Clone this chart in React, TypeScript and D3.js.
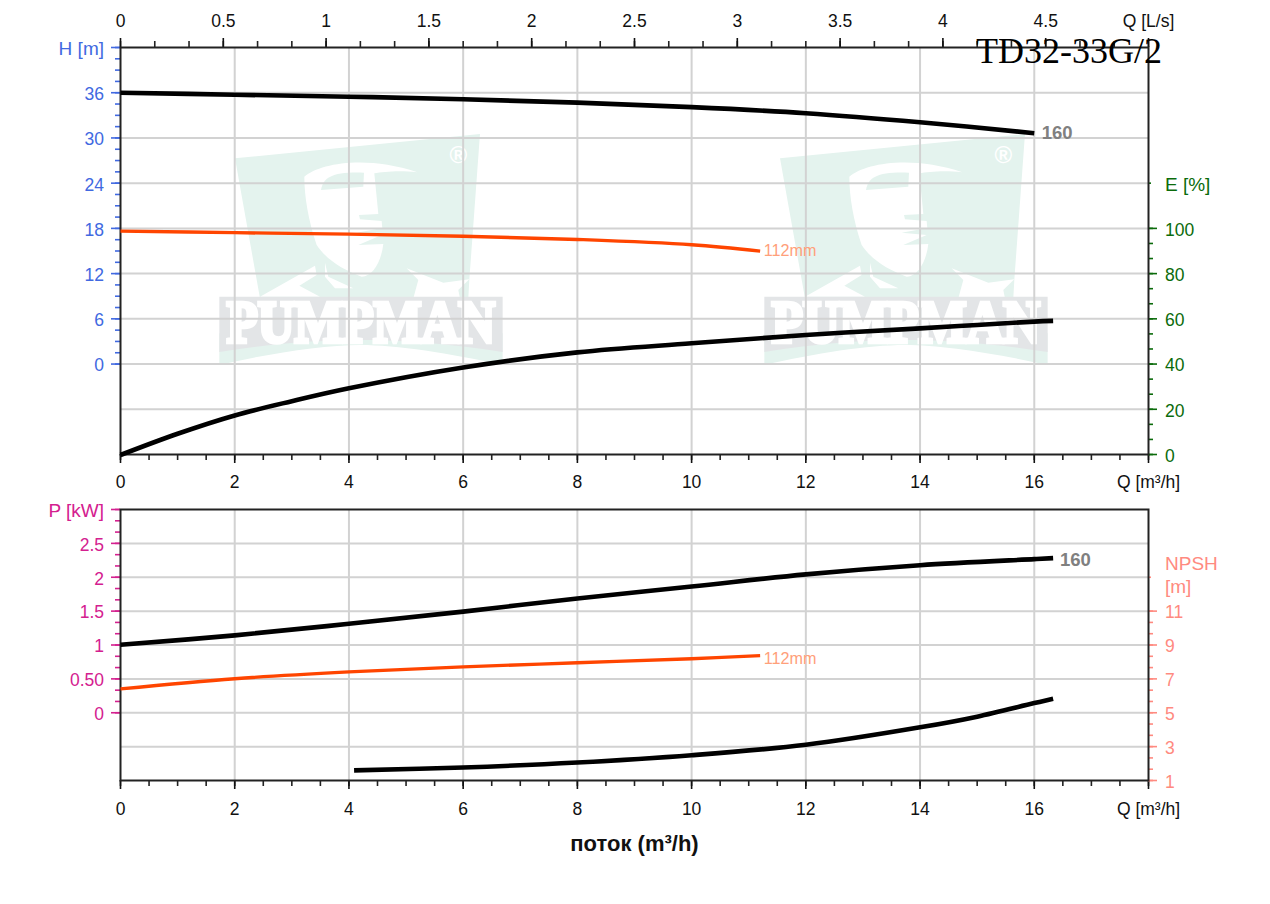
import React, { useEffect, useRef } from 'react';
import * as d3 from 'd3';

type Pt = [number, number];

// Flow values at which the curves were read (m3/h)
const headQ = [0, 2, 4, 6, 8, 10, 12, 14, 16];
const head160 = [36.07, 35.8, 35.54, 35.2, 34.75, 34.15, 33.35, 32.15, 30.7];
const headSmallQ = [0, 2, 4, 6, 8, 10, 11.2];
const head112 = [17.7, 17.5, 17.3, 17.03, 16.6, 15.9, 15.05];
const effQ = [0, 1, 2, 3, 4, 6, 8, 10, 12, 14, 15, 16, 16.33];
const eff160 = [0, 9.4, 17.5, 23.8, 29.5, 38.7, 45.4, 49.4, 53.1, 56, 57.5, 59, 59.3];
const powerQ = [0, 2, 4, 6, 8, 10, 12, 14, 16, 16.33];
const power160 = [1.01, 1.15, 1.32, 1.5, 1.695, 1.87, 2.05, 2.185, 2.275, 2.29];
const powerSmallQ = [0, 2, 4, 6, 8, 10, 11.2];
const power112 = [0.36, 0.51, 0.61, 0.685, 0.745, 0.805, 0.85];
const npshQ = [4.09, 6, 8, 10, 12, 14, 15, 16, 16.33];
const npsh160 = [1.63, 1.8, 2.09, 2.52, 3.14, 4.17, 4.8, 5.6, 5.85];

// Tick values
const qTicks = [0, 2, 4, 6, 8, 10, 12, 14, 16, 18];
const qMinor = d3.range(0, 18.01, 0.5);
const lsTicks = [0, 0.5, 1, 1.5, 2, 2.5, 3, 3.5, 4, 4.5, 5];
const lsMinor = d3.range(0, 5.01, 0.5 / 3);
const hTicks = [0, 6, 12, 18, 24, 30, 36];
const hMinor = d3.range(0, 42.01, 1.5);
const hGrid = [-6, 0, 6, 12, 18, 24, 30, 36];
const eTicks = [0, 20, 40, 60, 80, 100];
const eMinor = d3.range(0, 100.01, 20 / 3);
const pTicks = [0, 0.5, 1, 1.5, 2, 2.5];
const pMinor = d3.range(0, 3.01, 0.5 / 3);
const pGrid = [-0.5, 0, 0.5, 1, 1.5, 2, 2.5];
const npshTicks = [1, 3, 5, 7, 9, 11];
const npshMinor = d3.range(1, 11.01, 2 / 3);

const BLUE = '#4169e1';
const GREEN = '#0b6b0b';
const PINK = '#d4208f';
const SALMON = '#ff8a80';
const DARK = '#222';
const FONT = '"Liberation Sans", Arial, sans-serif';

const Watermark = ({ dx }: { dx: number }) => (
  <g transform={`translate(${210 + dx},120) scale(0.3333)`}>
    <polygon points="75,115 810,42 778,480 775,535 150,535" fill="#e4f3ee" />
    <path
      d="M283,170 C330,130 470,105 622,157 C570,150 520,155 493,160 L505,282 L447,285 L450,298 L515,303 L517,324 L440,338 L515,345 L445,375 L520,372 C515,420 490,470 455,470 C400,450 350,420 320,375 C295,300 283,230 283,170 Z"
      fill="#fff"
    />
    <path d="M333,210 C340,170 370,155 462,158 L460,200 Z" fill="#e4f3ee" />
    <polygon points="150,530 315,437 320,465 268,497 330,530" fill="#fff" />
    <polygon points="345,428 355,470 430,505 375,505 345,470" fill="#fff" />
    <polygon points="590,445 700,488 778,478 745,510 750,535 610,535 625,480" fill="#fff" />
    <path d="M28,640 H878 V735 C720,700 560,675 450,675 C340,675 180,700 28,735 Z" fill="#e4f3ee" />
    <path d="M28,530 H878 V696 C720,670 560,660 450,660 C340,660 180,670 28,696 Z" fill="#e3e5e7" />
    <text
      x={50}
      y={665}
      fontFamily='"Liberation Serif", serif'
      fontWeight="bold"
      fontSize={178}
      textLength={805}
      lengthAdjust="spacingAndGlyphs"
      fill="#fff"
      stroke="#fff"
      strokeWidth={13}
    >
      PUMPMAN
    </text>
    <text x={745} y={130} textAnchor="middle" fontFamily={FONT} fontWeight="bold" fontSize={72} fill="#fff">
      ®
    </text>
  </g>
);

const App = () => {
  const ref = useRef<SVGGElement>(null);

  useEffect(() => {
    const root = d3.select(ref.current);
    root.selectAll('*').remove();

    const x = d3.scaleLinear().domain([0, 18]).range([120, 1148]);
    const xLs = d3.scaleLinear().domain([0, 5]).range([120, 1148]);
    const yH = d3.scaleLinear().domain([-12, 42]).range([454, 47]);
    const yE = d3.scaleLinear().domain([0, 180]).range([454, 47]);
    const yP = d3.scaleLinear().domain([-1, 3]).range([780, 509]);
    const yN = d3.scaleLinear().domain([1, 17]).range([780, 509]);

    // Grid
    const grid = root.append('g').attr('transform', 'translate(0.5,0.5)')
      .attr('stroke', '#d2d2d2').attr('stroke-width', 2);
    qTicks.slice(1, -1).forEach(q => {
      grid.append('line').attr('x1', x(q)).attr('x2', x(q)).attr('y1', 47).attr('y2', 454);
      grid.append('line').attr('x1', x(q)).attr('x2', x(q)).attr('y1', 509).attr('y2', 780);
    });
    hGrid.forEach(h => {
      grid.append('line').attr('x1', 120).attr('x2', 1148).attr('y1', yH(h)).attr('y2', yH(h));
    });
    pGrid.forEach(p => {
      grid.append('line').attr('x1', 120).attr('x2', 1148).attr('y1', yP(p)).attr('y2', yP(p));
    });

    // Draws one tick set; minor sets get no labels
    const drawAxis = (axis: any, tx: string, color: string, labels?: (d: number) => string, size = 17.5, dy?: string) => {
      const g = root.append('g').attr('transform', tx);
      g.call(axis.tickFormat(labels || (() => '')));
      g.select('.domain').remove();
      g.selectAll('line').attr('stroke', color).attr('stroke-width', 1.6);
      g.selectAll('text').attr('fill', color).attr('font-family', FONT).attr('font-size', size);
      if (dy) g.selectAll('text').attr('dy', dy);
      return g;
    };
    const left = 'translate(120,0)';
    const right = 'translate(1148,0)';
    const VDY = '0.42em';
    const qLabel = (d: number) => (d === 18 ? 'Q [m³/h]' : String(d));

    // Flow axes
    drawAxis(d3.axisTop(xLs).tickValues(lsMinor).tickSize(6), 'translate(0,47)', DARK);
    drawAxis(d3.axisTop(xLs).tickValues(lsTicks).tickSize(9).tickPadding(11), 'translate(0,47)', '#111',
      d => (d === 5 ? 'Q [L/s]' : String(d)));
    [454, 780].forEach((y, i) => {
      drawAxis(d3.axisBottom(x).tickValues(qMinor).tickSize(6), `translate(0,${y})`, DARK);
      drawAxis(d3.axisBottom(x).tickValues(qTicks).tickSize(9).tickPadding(13 + i), `translate(0,${y})`, '#111', qLabel);
    });

    // Left value axes
    drawAxis(d3.axisLeft(yH).tickValues(hMinor).tickSize(5), left, BLUE);
    drawAxis(d3.axisLeft(yH).tickValues(hTicks).tickSize(9).tickPadding(7), left, BLUE, String, 17.5, VDY);
    drawAxis(d3.axisLeft(yH).tickValues([42]).tickSize(9).tickPadding(7), left, BLUE, () => 'H [m]', 19, VDY);
    drawAxis(d3.axisLeft(yP).tickValues(pMinor).tickSize(5), left, PINK);
    drawAxis(d3.axisLeft(yP).tickValues(pTicks).tickSize(9).tickPadding(7), left, PINK,
      d => (d === 0.5 ? '0.50' : String(d)), 17.5, VDY);
    drawAxis(d3.axisLeft(yP).tickValues([3]).tickSize(9).tickPadding(7), left, PINK, () => 'P [kW]', 19, VDY);

    // Right value axes
    drawAxis(d3.axisRight(yE).tickValues(eMinor).tickSize(5), right, GREEN);
    drawAxis(d3.axisRight(yE).tickValues(eTicks).tickSize(9).tickPadding(8), right, GREEN, String, 17.5, VDY);
    drawAxis(d3.axisRight(yE).tickValues([120]).tickSize(3).tickPadding(14), right, GREEN, () => 'E [%]', 19, VDY);
    drawAxis(d3.axisRight(yN).tickValues(npshMinor).tickSize(5), right, SALMON);
    drawAxis(d3.axisRight(yN).tickValues(npshTicks).tickSize(9).tickPadding(8), right, SALMON, String, 17.5, VDY);
    drawAxis(d3.axisRight(yN).tickValues([13]).tickSize(3), right, SALMON);
    ['NPSH', '[m]'].forEach((t, i) => {
      root.append('text').attr('x', 1165).attr('y', 570 + i * 22.5)
        .attr('fill', SALMON).attr('font-family', FONT).attr('font-size', 19).text(t);
    });

    // Plot frames
    [[47, 454], [509, 780]].forEach(([top, bottom]) => {
      root.append('rect')
        .attr('x', 120.5).attr('y', top + 0.5)
        .attr('width', 1028).attr('height', bottom - top)
        .attr('fill', 'none').attr('stroke', DARK).attr('stroke-width', 2);
    });

    // Curves
    const curves = root.append('g').attr('transform', 'translate(0.5,1)');
    const curve = (xs: number[], ys: number[], yScale: any, color: string, w: number) => {
      const pts: Pt[] = xs.map((q, i) => [q, ys[i]]);
      const line = d3.line<Pt>().x(d => x(d[0])).y(d => yScale(d[1])).curve(d3.curveCatmullRom);
      curves.append('path').datum(pts).attr('fill', 'none')
        .attr('stroke', color).attr('stroke-width', w).attr('d', line);
    };
    curve(headQ, head160, yH, '#000', 4.6);
    curve(headSmallQ, head112, yH, '#ff4500', 3.4);
    curve(effQ, eff160, yE, '#000', 4.6);
    curve(powerQ, power160, yP, '#000', 4.6);
    curve(powerSmallQ, power112, yP, '#ff4500', 3.4);
    curve(npshQ, npsh160, yN, '#000', 4.6);

    // Curve labels
    const bigLabel = (q: number, y: number) => {
      root.append('text').attr('x', x(q)).attr('y', y)
        .attr('fill', '#808080').attr('font-family', FONT)
        .attr('font-weight', 'bold').attr('font-size', 18.5).text('160');
    };
    bigLabel(16.14, 138.5);
    bigLabel(16.46, 566);
    const smallLabel = (y: number) => {
      root.append('text').attr('x', x(11.27)).attr('y', y)
        .attr('fill', '#ffa07a').attr('font-family', FONT).attr('font-size', 16.2).text('112mm');
    };
    smallLabel(255.5);
    smallLabel(664);

    // Titles
    root.append('text').attr('x', 976).attr('y', 63)
      .attr('fill', '#000').attr('font-family', '"Liberation Serif", serif')
      .attr('font-size', 36).text('TD32-33G/2');
    root.append('text').attr('x', 634.5).attr('y', 851).attr('text-anchor', 'middle')
      .attr('fill', '#111').attr('font-family', FONT).attr('font-weight', 'bold')
      .attr('font-size', 22).text('поток (m³/h)');
  }, []);

  return (
    <svg width={1270} height={904} style={{ position: 'absolute', left: 0, top: 0, background: '#fff' }}>
      <Watermark dx={0} />
      <Watermark dx={545} />
      <g ref={ref} />
    </svg>
  );
};

export default App;
